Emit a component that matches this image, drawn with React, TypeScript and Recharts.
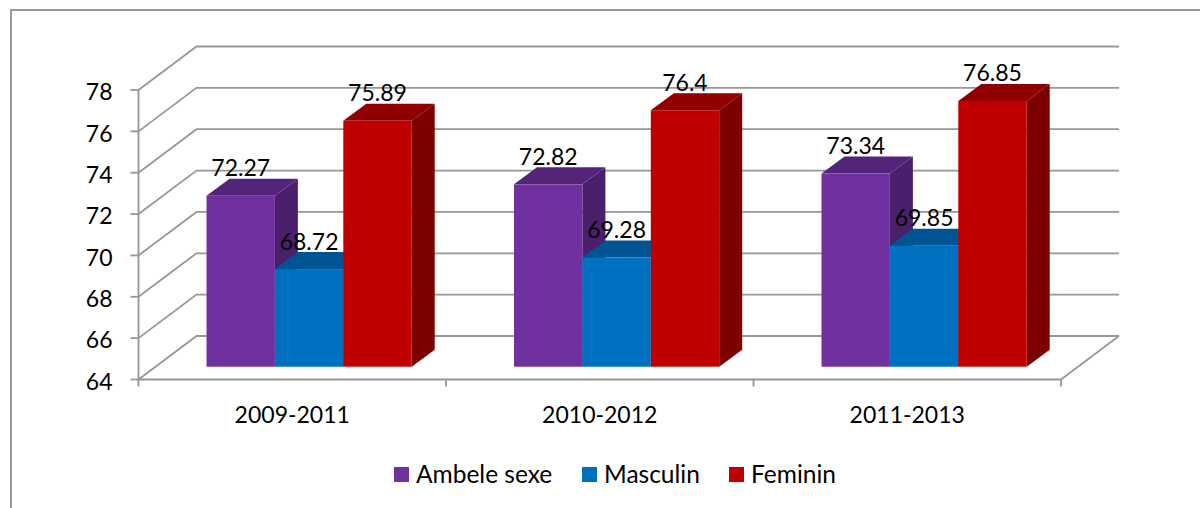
import React from 'react';
import { BarChart, Bar, XAxis, YAxis, CartesianGrid, ReferenceLine, LabelList, Legend } from 'recharts';

const categories = ['2009-2011', '2010-2012', '2011-2013'];
const ambeleSexe = [72.27, 72.82, 73.34];
const masculin = [68.72, 69.28, 69.85];
const feminin = [75.89, 76.4, 76.85];
const yTicks = [64, 66, 68, 70, 72, 74, 76, 78];

const chartData = categories.map((name, i) => ({
  name,
  'Ambele sexe': ambeleSexe[i],
  Masculin: masculin[i],
  Feminin: feminin[i],
}));

// 3D look: wall sits behind the front plane, bars stand part way into it
const WALL_DX = 58;
const WALL_DY = 43.5;
const BAR_SHIFT_X = 17;
const BAR_SHIFT_Y = 12.8;
const BAR_DEPTH_X = 23;
const BAR_DEPTH_Y = 17;
const gridColor = '#979797';
const fontFamily = 'Lato, sans-serif';

const seriesStyles = [
  { key: 'Ambele sexe', front: '#7030A0', top: '#54247A', side: '#4A1F6C' },
  { key: 'Masculin', front: '#0070C0', top: '#005493', side: '#004C82' },
  { key: 'Feminin', front: '#C00000', top: '#900000', side: '#7C0000' },
];

const Box3D = (props: any) => {
  const { x, y, width, height, front, top, side } = props;
  const x0 = x + BAR_SHIFT_X;
  const y0 = y - BAR_SHIFT_Y;
  const x1 = x0 + width;
  const y1 = y0 + height;
  const dx = BAR_DEPTH_X;
  const dy = BAR_DEPTH_Y;
  return (
    <g>
      <polygon points={`${x1},${y0} ${x1 + dx},${y0 - dy} ${x1 + dx},${y1 - dy} ${x1},${y1}`} fill={side} />
      <polygon points={`${x0},${y0} ${x0 + dx},${y0 - dy} ${x1 + dx},${y0 - dy} ${x1},${y0}`} fill={top} />
      <rect x={x0} y={y0} width={width} height={height} fill={front} />
    </g>
  );
};

const ValueLabel = (props: any) => {
  const { x, y, width, value } = props;
  return (
    <text
      x={x + width / 2 + BAR_SHIFT_X}
      y={y - BAR_SHIFT_Y - 19.5}
      textAnchor="middle"
      fontFamily={fontFamily}
      fontSize={23}
      fill="#000"
    >
      {value}
    </text>
  );
};

// front edge point -> slanted line to the back wall, then along the wall
const WallLine = (props: any) => {
  const { x1, y1, x2 } = props;
  return (
    <path
      d={`M${x1},${y1} L${x1 + WALL_DX},${y1 - WALL_DY} L${x2 + WALL_DX},${y1 - WALL_DY}`}
      fill="none"
      stroke={gridColor}
      strokeWidth={1.8}
    />
  );
};

// closes the floor on the right hand side
const FloorEdge = (props: any) => {
  const { y1, x2 } = props;
  return (
    <path
      d={`M${x2 + WALL_DX},${y1 - WALL_DY} L${x2},${y1}`}
      fill="none"
      stroke={gridColor}
      strokeWidth={1.8}
    />
  );
};

// category label, with the tick marks on the band edges instead of the centre
const CategoryTick = (props: any) => {
  const { x, y, width, index, visibleTicksCount, payload } = props;
  const half = width / visibleTicksCount / 2;
  const marks = index === visibleTicksCount - 1 ? [x - half, x + half] : [x - half];
  return (
    <g>
      {marks.map((m) => (
        <line key={m} x1={m} x2={m} y1={y} y2={y + 7} stroke={gridColor} strokeWidth={1.8} />
      ))}
      <text x={x} y={y + 43} textAnchor="middle" fontFamily={fontFamily} fontSize={23} fill="#000">
        {payload.value}
      </text>
    </g>
  );
};

const LegendContent = () => {
  const items = [
    { label: 'Ambele sexe', color: '#7030A0', left: 394 },
    { label: 'Masculin', color: '#0070C0', left: 582 },
    { label: 'Feminin', color: '#C00000', left: 729 },
  ];
  return (
    <div style={{ position: 'relative', width: 1200, height: 30, fontFamily, fontSize: 24.5, color: '#000' }}>
      {items.map((item) => (
        <div key={item.label} style={{ position: 'absolute', left: item.left, top: 0, lineHeight: '30px', whiteSpace: 'nowrap' }}>
          <span style={{ position: 'absolute', left: 0, top: 8, width: 15, height: 15, background: item.color }} />
          <span style={{ marginLeft: 22 }}>{item.label}</span>
        </div>
      ))}
    </div>
  );
};

export default function App() {
  return (
    <div style={{ position: 'absolute', left: 0, top: 0, width: 1200, height: 508, background: '#fff', overflow: 'hidden' }}>
      <div style={{ position: 'absolute', left: 10, top: 9, right: -4, bottom: -4, borderTop: `2px solid ${gridColor}`, borderLeft: `2px solid ${gridColor}` }} />
      <BarChart
        width={1200}
        height={508}
        data={chartData}
        margin={{ top: 90, right: 139, bottom: 88.5, left: 78.5 }}
        barSize={68.4}
        barGap={0}
        style={{ position: 'absolute', left: 0, top: 0 }}
      >
        <CartesianGrid vertical={false} horizontal={<WallLine />} syncWithTicks />
        <XAxis
          dataKey="name"
          interval={0}
          tickLine={false}
          tickSize={0}
          tickMargin={0}
          height={40}
          stroke={gridColor}
          strokeWidth={1.8}
          tick={<CategoryTick />}
        />
        <YAxis
          width={60}
          domain={[64, 78]}
          ticks={yTicks}
          interval={0}
          tickSize={8}
          tickMargin={18}
          stroke={gridColor}
          strokeWidth={1.8}
          tick={{ fill: '#000', fontFamily, fontSize: 23, dy: 2 }}
        />
        <ReferenceLine y={64} shape={<FloorEdge />} />
        {seriesStyles.map((s) => (
          <Bar
            key={s.key}
            dataKey={s.key}
            isAnimationActive={false}
            fill={s.front}
            shape={(p: any) => <Box3D {...p} front={s.front} top={s.top} side={s.side} />}
          >
            <LabelList dataKey={s.key} content={<ValueLabel />} />
          </Bar>
        ))}
        <Legend
          verticalAlign="middle"
          align="center"
          layout="horizontal"
          wrapperStyle={{ top: 459, left: 0, width: 1200 }}
          content={<LegendContent />}
        />
      </BarChart>
    </div>
  );
}
